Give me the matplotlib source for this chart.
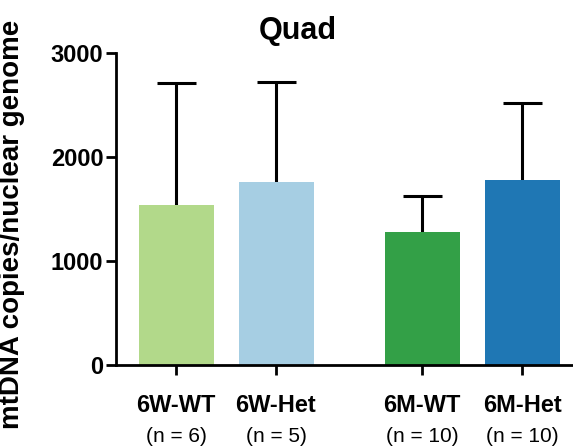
import numpy as np
import matplotlib.pyplot as plt

plt.rcParams["font.family"] = ["Liberation Sans", "DejaVu Sans"]

# Data
groups = ["6W-WT", "6W-Het", "6M-WT", "6M-Het"]
n_labels = ["(n = 6)", "(n = 5)", "(n = 10)", "(n = 10)"]
means = [1540, 1760, 1280, 1780]
sd = [1170, 960, 345, 740]
colors = ["#b2d98a", "#a6cee3", "#33a047", "#1f77b4"]
x_pos = [0, 1, 2.46, 3.46]

fig = plt.figure(figsize=(5.73, 4.46), dpi=100)
ax = fig.add_axes([116/573, 1-365/446, 1-116/573, (365-53)/446])

ax.bar(x_pos, means, width=0.75, color=colors, zorder=2)

# upper-only error bars
tops = np.array(means) + np.array(sd)
ax.vlines(x_pos, means, tops, color="black", linewidth=2.2, zorder=1)
ax.hlines(tops, np.array(x_pos) - 0.195, np.array(x_pos) + 0.195,
          color="black", linewidth=2.2, zorder=3)

ax.set_xlim(-0.6, 3.97)
ax.set_ylim(0, 3000)
ax.set_yticks([0, 1000, 2000, 3000])
ax.set_xticks(x_pos)
ax.set_xticklabels(groups, fontsize=17, fontweight="bold")

for lab in ax.get_yticklabels():
    lab.set_fontweight("bold")
    lab.set_fontsize(17)

ax.tick_params(axis="both", direction="out", length=7, width=2, pad=2)
ax.tick_params(axis="x", pad=14)

for s in ["top", "right"]:
    ax.spines[s].set_visible(False)
for s in ["left", "bottom"]:
    ax.spines[s].set_linewidth(2)

for xp, nl in zip(x_pos, n_labels):
    ax.text(xp, -71/312, nl, transform=ax.get_xaxis_transform(),
            ha="center", va="center", fontsize=15)

ax.set_ylabel("mtDNA copies/nuclear genome", fontsize=20, fontweight="bold")
ax.yaxis.set_label_coords(-0.199, 0.452)
fig.text(298/573, 1-31/446, "Quad", ha="center", va="center",
         fontsize=22, fontweight="bold")

plt.savefig("out.png", dpi=100)
